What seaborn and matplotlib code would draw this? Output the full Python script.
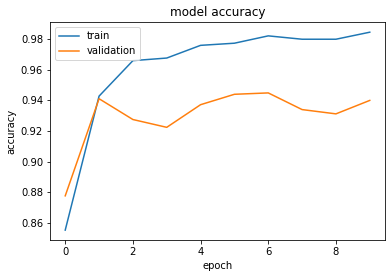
import seaborn as sns
import pandas as pd
import matplotlib.pyplot as plt

# accuracy per epoch
epochs = list(range(10))
train_acc = [0.8552, 0.9428, 0.9660, 0.9677, 0.9760, 0.9774, 0.9822, 0.9800, 0.9800, 0.9846]
val_acc = [0.8776, 0.9411, 0.9275, 0.9224, 0.9372, 0.9440, 0.9449, 0.9340, 0.9312, 0.9400]

df = pd.DataFrame({"epoch": epochs + epochs,
                   "accuracy": train_acc + val_acc,
                   "set": ["train"] * 10 + ["validation"] * 10})

fig = plt.figure(figsize=(392 / 72, 278 / 72), dpi=72)
ax = fig.add_axes([50 / 392, 1 - 240 / 278, 335 / 392, 217.7 / 278])
sns.lineplot(data=df, x="epoch", y="accuracy", hue="set",
             palette=["#1f77b4", "#ff7f0e"], ax=ax)
ax.set_title("model accuracy")
ax.set_xlabel("epoch")
ax.set_ylabel("accuracy")
ax.legend(loc="upper left")

plt.savefig("out.png", dpi=72)
plt.close()
